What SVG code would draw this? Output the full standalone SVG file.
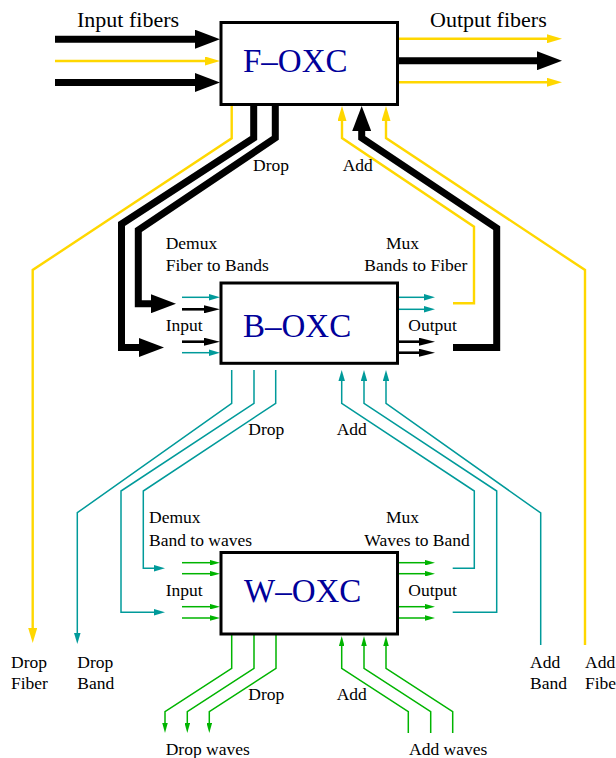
<svg xmlns="http://www.w3.org/2000/svg" width="616" height="758" viewBox="0 0 616 758">
<style>
text{font-family:"Liberation Serif","Times New Roman",serif;fill:#000}
.lbl{font-size:17.5px}
.big{font-size:22px}
.oxc{font-size:33px;fill:#00009a}
.box{fill:#fff;stroke:#000;stroke-width:3}
.thick{fill:none;stroke:#000;stroke-width:7;stroke-linejoin:miter;stroke-miterlimit:10}
.blk{fill:none;stroke:#000;stroke-width:2.6}
.yel{fill:none;stroke:#ffd700;stroke-width:2.4}
.teal{fill:none;stroke:#009a9a;stroke-width:1.5}
.grn{fill:none;stroke:#00b400;stroke-width:1.5}
</style>
<defs>
<marker id="mBig" markerUnits="userSpaceOnUse" markerWidth="25" markerHeight="19" refX="2" refY="9.5" orient="auto"><path d="M0,0 L25,9.5 L0,19 z" fill="#000"/></marker>
<marker id="mYel" markerUnits="userSpaceOnUse" markerWidth="15" markerHeight="9" refX="1" refY="4.5" orient="auto"><path d="M0,0 L15,4.5 L0,9 z" fill="#ffd700"/></marker>
<marker id="mBlk" markerUnits="userSpaceOnUse" markerWidth="16" markerHeight="8" refX="1" refY="4" orient="auto"><path d="M0,0 L16,4 L0,8 z" fill="#000"/></marker>
<marker id="mTeal" markerUnits="userSpaceOnUse" markerWidth="11" markerHeight="6.5" refX="1" refY="3.25" orient="auto"><path d="M0,0 L11,3.25 L0,6.5 z" fill="#009a9a"/></marker>
<marker id="mGrn" markerUnits="userSpaceOnUse" markerWidth="10" markerHeight="5.5" refX="1" refY="2.75" orient="auto"><path d="M0,0 L10,2.75 L0,5.5 z" fill="#00b400"/></marker>
</defs>

<g id="connectors">
  <!-- input fibers -->
  <path class="thick" d="M55,39.2 H197" marker-end="url(#mBig)"/>
  <path class="yel" d="M55,61 H206" marker-end="url(#mYel)"/>
  <path class="thick" d="M55,82.5 H197" marker-end="url(#mBig)"/>
  <!-- output fibers -->
  <path class="yel" d="M398,38.7 H548" marker-end="url(#mYel)"/>
  <path class="thick" d="M398,60.7 H539" marker-end="url(#mBig)"/>
  <path class="yel" d="M398,82.3 H548" marker-end="url(#mYel)"/>

  <!-- F-OXC drop -->
  <path class="yel" d="M231.7,105 V138.3 L32.7,270 V629" marker-end="url(#mYel)"/>
  <path class="thick" d="M253.7,105 V138 L121.5,224 V347.5 H141" marker-end="url(#mBig)"/>
  <path class="thick" d="M275.3,105 V138 L138.3,230 V303.7 H153" marker-end="url(#mBig)"/>
  <!-- F-OXC add -->
  <path class="yel" d="M453,303.3 H474 V226.7 L342,138 V120" marker-end="url(#mYel)"/>
  <path class="thick" d="M453,347.5 H496.7 V228 L361.7,138 V129" marker-end="url(#mBig)"/>
  <path class="yel" d="M585,645 V270 L386,138 V120" marker-end="url(#mYel)"/>

  <!-- B-OXC inputs -->
  <path class="teal" d="M182,297.3 H210" marker-end="url(#mTeal)"/>
  <path class="blk" d="M182,309.3 H205" marker-end="url(#mBlk)"/>
  <path class="blk" d="M182,341.7 H205" marker-end="url(#mBlk)"/>
  <path class="teal" d="M182,352.7 H210" marker-end="url(#mTeal)"/>
  <!-- B-OXC outputs -->
  <path class="teal" d="M398,297.3 H425" marker-end="url(#mTeal)"/>
  <path class="teal" d="M398,309.3 H425" marker-end="url(#mTeal)"/>
  <path class="blk" d="M398,341.7 H420" marker-end="url(#mBlk)"/>
  <path class="blk" d="M398,352.7 H420" marker-end="url(#mBlk)"/>

  <!-- B-OXC drop -->
  <path class="teal" d="M231.7,370 V403.3 L77.3,512.7 V634" marker-end="url(#mTeal)"/>
  <path class="teal" d="M254,370 V403.3 L121,491 V612.3 H155" marker-end="url(#mTeal)"/>
  <path class="teal" d="M275.7,370 V403.3 L143.3,491 V568.3 H155" marker-end="url(#mTeal)"/>
  <!-- B-OXC add -->
  <path class="teal" d="M452.7,568.3 H474.3 V491 L341.7,403.3 V380" marker-end="url(#mTeal)"/>
  <path class="teal" d="M452.7,612.3 H496.7 V491 L364,403.3 V380" marker-end="url(#mTeal)"/>
  <path class="teal" d="M540.7,645 V513 L386,403.3 V380" marker-end="url(#mTeal)"/>

  <!-- W-OXC inputs -->
  <path class="grn" d="M182,562.7 H211" marker-end="url(#mGrn)"/>
  <path class="grn" d="M182,573.7 H211" marker-end="url(#mGrn)"/>
  <path class="grn" d="M182,606.7 H211" marker-end="url(#mGrn)"/>
  <path class="grn" d="M182,618 H211" marker-end="url(#mGrn)"/>
  <!-- W-OXC outputs -->
  <path class="grn" d="M398,562.7 H426" marker-end="url(#mGrn)"/>
  <path class="grn" d="M398,573.7 H426" marker-end="url(#mGrn)"/>
  <path class="grn" d="M398,606.7 H426" marker-end="url(#mGrn)"/>
  <path class="grn" d="M398,618 H426" marker-end="url(#mGrn)"/>

  <!-- W-OXC drop -->
  <path class="grn" d="M231.7,635 V668.3 L165,711.7 V724" marker-end="url(#mGrn)"/>
  <path class="grn" d="M254,635 V668.3 L187.3,711.7 V724" marker-end="url(#mGrn)"/>
  <path class="grn" d="M276,635 V668.3 L209.3,711.7 V724" marker-end="url(#mGrn)"/>
  <!-- W-OXC add -->
  <path class="grn" d="M408.3,733 V711.7 L341.7,668.3 V645" marker-end="url(#mGrn)"/>
  <path class="grn" d="M430.7,733 V711.7 L364,668.3 V645" marker-end="url(#mGrn)"/>
  <path class="grn" d="M452.7,733 V711.7 L386,668.3 V645" marker-end="url(#mGrn)"/>
</g>

<g id="f-oxc">
  <rect class="box" x="221" y="22.5" width="176.5" height="82"/>
  <text class="oxc" x="243" y="72">F–OXC</text>
</g>
<g id="b-oxc">
  <rect class="box" x="221" y="283" width="176.5" height="80.3"/>
  <text class="oxc" x="243" y="337">B–OXC</text>
</g>
<g id="w-oxc">
  <rect class="box" x="221" y="552.5" width="176.5" height="81.5"/>
  <text class="oxc" x="244" y="602">W–OXC</text>
</g>

<g id="labels">
  <text class="big" x="77" y="27">Input fibers</text>
  <text class="big" x="430" y="27">Output fibers</text>
  <text class="lbl" x="253" y="171">Drop</text>
  <text class="lbl" x="342.7" y="171">Add</text>
  <text class="lbl" x="165.7" y="249">Demux</text>
  <text class="lbl" x="165.7" y="271">Fiber to Bands</text>
  <text class="lbl" x="386" y="249">Mux</text>
  <text class="lbl" x="364.3" y="271">Bands to Fiber</text>
  <text class="lbl" x="165.7" y="330.7">Input</text>
  <text class="lbl" x="408.3" y="330.7">Output</text>
  <text class="lbl" x="248.3" y="435">Drop</text>
  <text class="lbl" x="336.7" y="435">Add</text>
  <text class="lbl" x="149" y="523.3">Demux</text>
  <text class="lbl" x="149" y="545.7">Band to waves</text>
  <text class="lbl" x="386" y="523.3">Mux</text>
  <text class="lbl" x="364.3" y="545.7">Waves to Band</text>
  <text class="lbl" x="165.7" y="595.7">Input</text>
  <text class="lbl" x="408.3" y="595.7">Output</text>
  <text class="lbl" x="248.3" y="700">Drop</text>
  <text class="lbl" x="336.7" y="700">Add</text>
  <text class="lbl" x="165.7" y="755">Drop waves</text>
  <text class="lbl" x="409" y="755">Add waves</text>
  <text class="lbl" x="11" y="667.5">Drop</text>
  <text class="lbl" x="11" y="689">Fiber</text>
  <text class="lbl" x="77.3" y="667.5">Drop</text>
  <text class="lbl" x="77.3" y="689">Band</text>
  <text class="lbl" x="530" y="667.5">Add</text>
  <text class="lbl" x="530" y="689">Band</text>
  <text class="lbl" x="585" y="667.5">Add</text>
  <text class="lbl" x="585" y="689">Fiber</text>
</g>
</svg>
